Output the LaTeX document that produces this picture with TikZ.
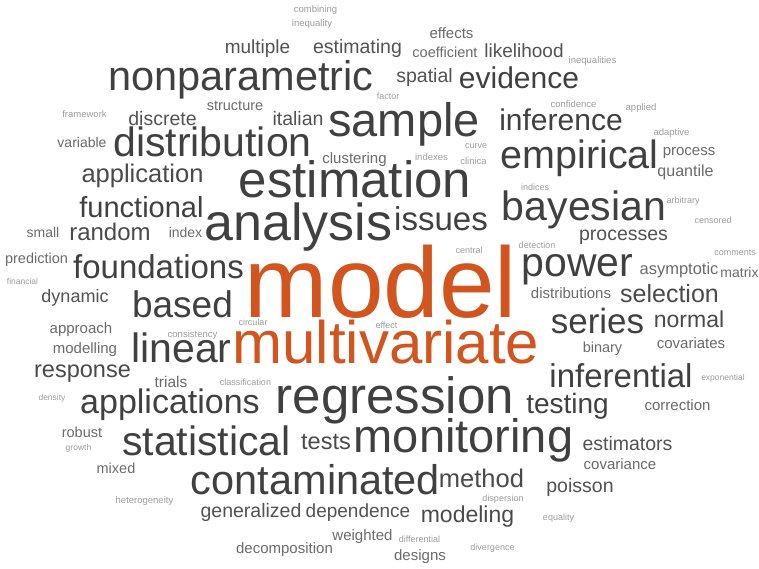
\documentclass[tikz,border=0pt]{standalone}
\usepackage{fontspec}
\setmainfont{Liberation Sans}
\definecolor{cBig}{HTML}{404040}
\definecolor{cMedB}{HTML}{4A4A4A}
\definecolor{cMed}{HTML}{525252}
\definecolor{cSmall}{HTML}{6A6A6A}
\definecolor{cTiny}{HTML}{9C9C9C}
\definecolor{cOrange}{HTML}{D2541E}
\tikzset{
  word/.style={anchor=base, inner sep=0pt, outer sep=0pt},
  big/.style={word, text=cBig},
  medb/.style={word, text=cMedB},
  med/.style={word, text=cMed},
  small/.style={word, text=cSmall},
  tiny/.style={word, text=cTiny},
  orange/.style={word, text=cOrange}
}
\newcommand\wrd[5]{\node[#4, font=\fontsize{#3}{#3}\selectfont] (w-#5) at (#1,#2) {#5};}
\begin{document}
\begin{tikzpicture}[x=1pt,y=-1pt]
\useasboundingbox (0,0) rectangle (759,568);
\wrd{315.5}{12}{9.5}{tiny}{combining}
\wrd{312}{26}{9.5}{tiny}{inequality}
\wrd{451.5}{38}{15}{small}{effects}
\wrd{257.5}{53}{19}{med}{multiple}
\wrd{357.5}{53}{19.5}{med}{estimating}
\wrd{445}{57}{14.5}{small}{coefficient}
\wrd{524}{57}{19}{med}{likelihood}
\wrd{592.5}{63}{9.5}{tiny}{inequalities}
\wrd{241}{90}{41.5}{big}{nonparametric}
\wrd{424.5}{82}{19.5}{med}{spatial}
\wrd{519}{88}{30}{big}{evidence}
\wrd{388}{99}{9}{tiny}{factor}
\wrd{84.5}{117}{9.5}{tiny}{framework}
\wrd{162.5}{125}{19.5}{med}{discrete}
\wrd{235}{110}{14.5}{small}{structure}
\wrd{298}{125}{19.5}{med}{italian}
\wrd{404}{136}{47}{big}{sample}
\wrd{573.5}{107}{9.5}{tiny}{confidence}
\wrd{641}{110}{9.5}{tiny}{applied}
\wrd{561}{130}{30}{big}{inference}
\wrd{671.5}{135}{9.5}{tiny}{adaptive}
\wrd{82}{147}{14}{small}{variable}
\wrd{212.5}{156}{41}{big}{distribution}
\wrd{354.5}{163}{15}{small}{clustering}
\wrd{476}{148}{9}{tiny}{curve}
\wrd{431.5}{160}{9.5}{tiny}{indexes}
\wrd{473.5}{164}{9.5}{tiny}{clinica}
\wrd{689}{155}{15}{small}{process}
\wrd{579.5}{168}{39.5}{big}{empirical}
\wrd{685.5}{176}{16}{small}{quantile}
\wrd{142.5}{182}{25.5}{medb}{application}
\wrd{355}{197}{51}{big}{estimation}
\wrd{535}{190}{9}{tiny}{indices}
\wrd{141.5}{217}{29}{big}{functional}
\wrd{683}{203}{9}{tiny}{arbitrary}
\wrd{584}{220}{41}{big}{bayesian}
\wrd{713}{223}{9}{tiny}{censored}
\wrd{441}{230}{33}{big}{issues}
\wrd{43}{237}{14}{small}{small}
\wrd{110}{240}{24}{medb}{random}
\wrd{185.5}{237}{14}{small}{index}
\wrd{298.5}{240}{52}{big}{analysis}
\wrd{623.5}{240}{19.5}{med}{processes}
\wrd{469}{253}{9}{tiny}{central}
\wrd{537}{248}{9}{tiny}{detection}
\wrd{735}{255}{9}{tiny}{comments}
\wrd{36.5}{263}{14.5}{small}{prediction}
\wrd{158.5}{278}{33}{big}{foundations}
\wrd{381}{317}{100}{orange}{model}
\wrd{577.5}{276}{41}{big}{power}
\wrd{679}{274}{16.5}{small}{asymptotic}
\wrd{739.5}{277}{14}{small}{matrix}
\wrd{22.5}{284}{8.5}{tiny}{financial}
\wrd{75}{302}{18}{med}{dynamic}
\wrd{571}{298}{15}{small}{distributions}
\wrd{669.5}{302}{25}{medb}{selection}
\wrd{182.5}{317}{37}{big}{based}
\wrd{253}{325}{9}{tiny}{circular}
\wrd{386.5}{328}{9}{tiny}{effect}
\wrd{597.5}{333}{35}{big}{series}
\wrd{689}{327}{23}{medb}{normal}
\wrd{81}{333}{15}{small}{approach}
\wrd{192.5}{337}{9.5}{tiny}{consistency}
\wrd{85}{353}{15}{small}{modelling}
\wrd{691}{348}{15}{small}{covariates}
\wrd{602.5}{352}{14.5}{small}{binary}
\wrd{181.5}{362}{41}{big}{linear}
\wrd{386}{363}{60}{orange}{multivariate}
\wrd{82.5}{377}{23.5}{medb}{response}
\wrd{723}{380}{8.5}{tiny}{exponential}
\wrd{245.5}{385}{9}{tiny}{classification}
\wrd{171}{387}{15.5}{small}{trials}
\wrd{621}{387}{33}{big}{inferential}
\wrd{52}{400}{8.5}{tiny}{density}
\wrd{677.5}{410}{15}{small}{correction}
\wrd{170}{413}{34}{big}{applications}
\wrd{395}{413}{51}{big}{regression}
\wrd{567.5}{413}{28}{big}{testing}
\wrd{82}{437}{14.5}{small}{robust}
\wrd{78.5}{450}{8.5}{tiny}{growth}
\wrd{206.5}{455}{41}{big}{statistical}
\wrd{326}{449}{23.5}{medb}{tests}
\wrd{463.5}{452}{47}{big}{monitoring}
\wrd{627.5}{450}{19.5}{med}{estimators}
\wrd{620}{469}{15}{small}{covariance}
\wrd{116}{473}{14.5}{small}{mixed}
\wrd{315.5}{494}{41.5}{big}{contaminated}
\wrd{481.5}{487}{25.5}{medb}{method}
\wrd{580}{492}{19.5}{med}{poisson}
\wrd{503}{501}{9}{tiny}{dispersion}
\wrd{144.5}{503}{9.5}{tiny}{heterogeneity}
\wrd{251}{517}{19.5}{med}{generalized}
\wrd{358}{517}{19}{med}{dependence}
\wrd{467.5}{522}{23}{medb}{modeling}
\wrd{558.5}{520}{9}{tiny}{equality}
\wrd{362.5}{540}{15}{small}{weighted}
\wrd{419.5}{542}{9}{tiny}{differential}
\wrd{492.5}{550}{9}{tiny}{divergence}
\wrd{284.5}{553}{15}{small}{decomposition}
\wrd{420}{560}{15}{small}{designs}
\end{tikzpicture}
\end{document}
